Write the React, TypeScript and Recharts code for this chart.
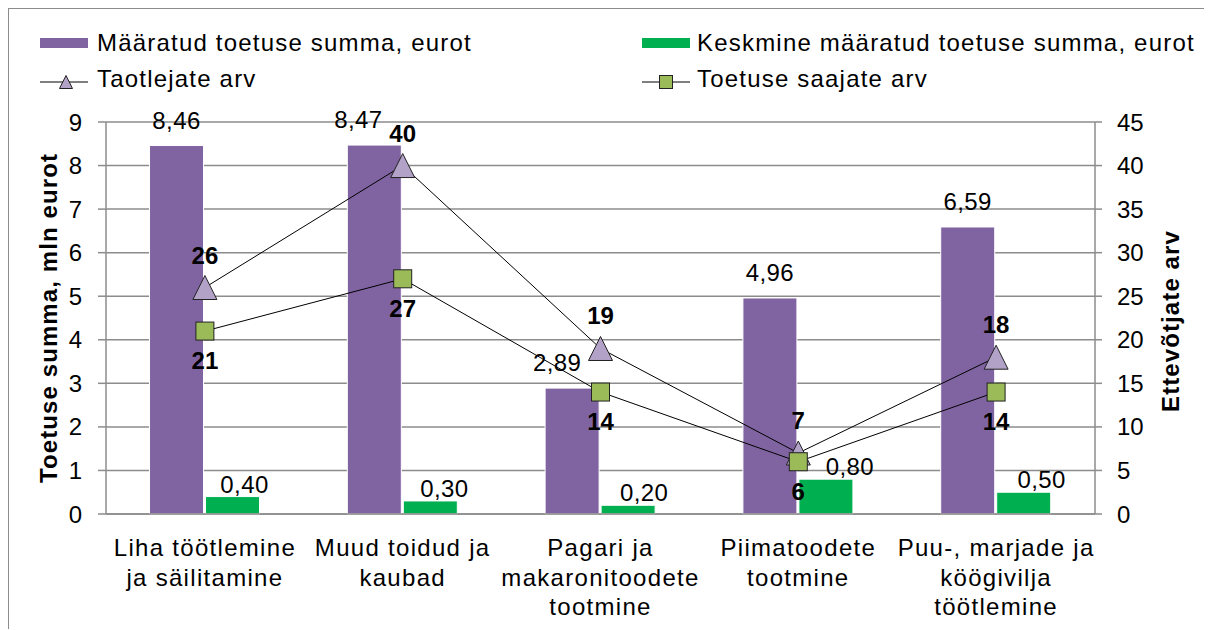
import { Bar, CartesianGrid, ComposedChart, LabelList, Line, XAxis, YAxis } from "recharts"

const categories = [
  "Liha töötlemine\nja säilitamine",
  "Muud toidud ja\nkaubad",
  "Pagari ja\nmakaronitoodete\ntootmine",
  "Piimatoodete\ntootmine",
  "Puu-, marjade ja\nköögivilja\ntöötlemine",
]
const totalAid = [8.46, 8.47, 2.89, 4.96, 6.59]
const avgAid = [0.4, 0.3, 0.2, 0.8, 0.5]
const applicants = [26, 40, 19, 7, 18]
const recipients = [21, 27, 14, 6, 14]
const leftTicks = [0, 1, 2, 3, 4, 5, 6, 7, 8, 9]
const rightTicks = [0, 5, 10, 15, 20, 25, 30, 35, 40, 45]
const edgeTicks = [0, 1, 2, 3, 4, 5]

// label nudges so they don't collide with the line labels
const totalNudge = [0, -16, -15, 0, 0]
const avgNudge = [12, 14, 16, 24, 18]

const PURPLE = "#8064A2"
const GREEN = "#00B050"
const TRI = "#B3A2C7"
const SQ = "#9BBB59"
const GRID = "#8c8c8c"
const FONT = "'Liberation Sans', Arial, sans-serif"

const data = categories.map((name, i) => ({
  name,
  total: totalAid[i],
  avg: avgAid[i],
  applicants: applicants[i],
  recipients: recipients[i],
}))

const fmt = (v: number) => v.toFixed(2).replace(".", ",")

function Triangle({ cx, cy, s = 12 }: { cx?: number; cy?: number; s?: number }) {
  if (cx == null || cy == null) return null
  return (
    <path
      d={`M${cx},${cy - s} L${cx + s},${cy + s} L${cx - s},${cy + s} Z`}
      fill={TRI}
      stroke="#222"
      strokeWidth={1}
    />
  )
}

function Square({ cx, cy, s = 9 }: { cx?: number; cy?: number; s?: number }) {
  if (cx == null || cy == null) return null
  return <rect x={cx - s} y={cy - s} width={s * 2} height={s * 2} fill={SQ} stroke="#222" strokeWidth={1} />
}

function CatTick({ x, y, payload }: any) {
  const lines = String(payload.value).split("\n")
  return (
    <text x={x} y={y} textAnchor="middle" fontSize={24} fontFamily={FONT} fill="#000" letterSpacing={1.3}>
      {lines.map((l, i) => (
        <tspan key={i} x={x} dy={i === 0 ? 42 : 29.5}>
          {l}
        </tspan>
      ))}
    </text>
  )
}

function barLabel(nudge: number[], offset: number) {
  return (p: any) => {
    const { x, y, width, value, index } = p
    return (
      <text
        x={x + width / 2 + nudge[index]}
        y={y - offset}
        textAnchor="middle"
        fontSize={24}
        fontFamily={FONT}
        fill="#000"
        letterSpacing={0.4}
      >
        {fmt(Number(value))}
      </text>
    )
  }
}

function pointLabel(dy: number) {
  return (p: any) => {
    const { x, y, value } = p
    return (
      <text x={x} y={y + dy} textAnchor="middle" fontSize={24} fontWeight="bold" fontFamily={FONT} fill="#000">
        {value}
      </text>
    )
  }
}

function Overlay() {
  const txt = { fontSize: 24, fontFamily: FONT, fill: "#000", letterSpacing: 1.2 }
  const title = { textAnchor: "middle" as const, dominantBaseline: "central" as const, fontSize: 24, fontWeight: "bold", fontFamily: FONT, fill: "#000", letterSpacing: 1.1 }
  return (
    <svg width={1202} height={620} style={{ position: "absolute", left: 0, top: 0, pointerEvents: "none" }}>
      <rect x={31} y={29} width={48} height={10} fill={PURPLE} />
      <text x={88} y={42} {...txt}>Määratud toetuse summa, eurot</text>
      <rect x={633} y={29} width={48} height={10} fill={GREEN} />
      <text x={688} y={42} {...txt}>Keskmine määratud toetuse summa, eurot</text>

      <line x1={31} x2={79} y1={73} y2={73} stroke="#000" strokeWidth={1} />
      <Triangle cx={57} cy={73} s={6.5} />
      <text x={88} y={78} {...txt}>Taotlejate arv</text>
      <line x1={633} x2={681} y1={73} y2={73} stroke="#000" strokeWidth={1} />
      <Square cx={657} cy={73} s={6.5} />
      <text x={688} y={78} {...txt}>Toetuse saajate arv</text>

      <text transform="translate(39,309) rotate(-90)" {...title}>
        Toetuse summa, mln eurot
      </text>
      <text transform="translate(1161,312) rotate(-90)" {...title}>
        Ettevõtjate arv
      </text>
    </svg>
  )
}

export default function App() {
  return (
    <div
      style={{
        position: "relative",
        width: 1202,
        height: 620,
        marginLeft: -1,
        marginTop: -1,
        borderLeft: `2px solid ${GRID}`,
        borderTop: `2px solid ${GRID}`,
        background: "#fff",
      }}
    >
      <ComposedChart
        width={1202}
        height={620}
        data={data}
        margin={{ top: 113, right: 0, bottom: 0, left: 0 }}
        barCategoryGap="22%"
        barGap={2}
      >
        <CartesianGrid yAxisId="left" xAxisId="cat" vertical={false} stroke={GRID} strokeWidth={1.5} />
        <XAxis
          xAxisId="edge"
          type="number"
          domain={[0, 5]}
          ticks={edgeTicks}
          height={0}
          axisLine={false}
          tickLine={{ stroke: GRID, strokeWidth: 1.5 }}
          tickSize={8}
          tick={() => <g />}
        />
        <XAxis
          xAxisId="cat"
          dataKey="name"
          height={115}
          interval={0}
          tickLine={false}
          tickSize={0}
          tickMargin={0}
          axisLine={{ stroke: GRID, strokeWidth: 1.5 }}
          tick={<CatTick />}
        />
        <YAxis
          yAxisId="left"
          domain={[0, 9]}
          ticks={leftTicks}
          width={97}
          tickSize={8}
          tickMargin={16}
          axisLine={{ stroke: GRID, strokeWidth: 1.5 }}
          tickLine={{ stroke: GRID, strokeWidth: 1.5 }}
          tick={{ fontSize: 24, fill: "#000", fontFamily: FONT }}
        />
        <YAxis
          yAxisId="right"
          orientation="right"
          domain={[0, 45]}
          ticks={rightTicks}
          width={116}
          tickSize={7}
          tickMargin={15}
          axisLine={{ stroke: GRID, strokeWidth: 1.5 }}
          tickLine={{ stroke: GRID, strokeWidth: 1.5 }}
          tick={{ fontSize: 24, fill: "#000", fontFamily: FONT }}
        />
        <Bar xAxisId="cat" yAxisId="left" dataKey="total" fill={PURPLE} stroke="#fff" strokeWidth={1} isAnimationActive={false}>
          <LabelList dataKey="total" content={barLabel(totalNudge, 17)} />
        </Bar>
        <Bar xAxisId="cat" yAxisId="left" dataKey="avg" fill={GREEN} stroke="#fff" strokeWidth={1} isAnimationActive={false}>
          <LabelList dataKey="avg" content={barLabel(avgNudge, 4)} />
        </Bar>
        <Line
          xAxisId="cat"
          yAxisId="right"
          type="linear"
          dataKey="applicants"
          stroke="#000"
          strokeWidth={1}
          dot={(p: any) => <Triangle key={`t${p.index}`} cx={p.cx} cy={p.cy} />}
          isAnimationActive={false}
        >
          <LabelList dataKey="applicants" content={pointLabel(-24)} />
        </Line>
        <Line
          xAxisId="cat"
          yAxisId="right"
          type="linear"
          dataKey="recipients"
          stroke="#000"
          strokeWidth={1}
          dot={(p: any) => <Square key={`s${p.index}`} cx={p.cx} cy={p.cy} />}
          isAnimationActive={false}
        >
          <LabelList dataKey="recipients" content={pointLabel(38)} />
        </Line>
      </ComposedChart>
      <Overlay />
    </div>
  )
}
